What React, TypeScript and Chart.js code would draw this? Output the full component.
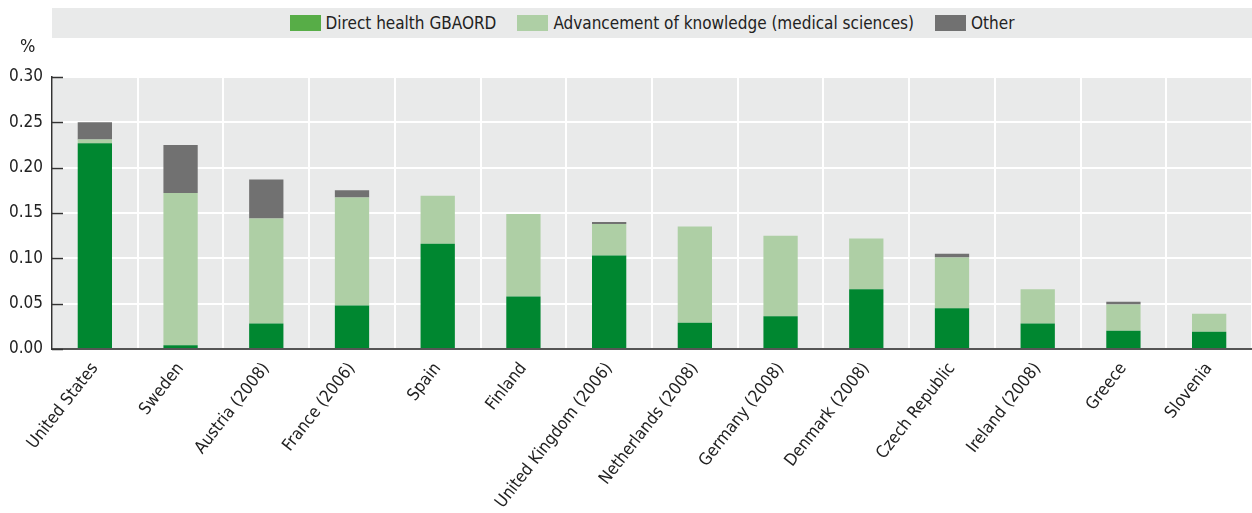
import React, { useEffect, useRef } from "react";
import { Chart, registerables } from "chart.js";

Chart.register(...registerables);

const categories = [
  "United States",
  "Sweden",
  "Austria (2008)",
  "France (2006)",
  "Spain",
  "Finland",
  "United Kingdom (2006)",
  "Netherlands (2008)",
  "Germany (2008)",
  "Denmark (2008)",
  "Czech Republic",
  "Ireland (2008)",
  "Greece",
  "Slovenia",
];
const directHealth = [0.227, 0.004, 0.028, 0.048, 0.116, 0.058, 0.103, 0.029, 0.036, 0.066, 0.045, 0.028, 0.02, 0.019];
const advancement = [0.004, 0.168, 0.116, 0.119, 0.053, 0.091, 0.035, 0.106, 0.089, 0.056, 0.056, 0.038, 0.029, 0.02];
const other = [0.019, 0.053, 0.043, 0.008, 0, 0, 0.002, 0, 0, 0, 0.004, 0, 0.003, 0];
const seriesNames = ["Direct health GBAORD", "Advancement of knowledge (medical sciences)", "Other"];
const yTicks = [0, 0.05, 0.1, 0.15, 0.2, 0.25, 0.3];

const FONT = "'Liberation Sans Narrow', 'DejaVu Sans Condensed', 'Arial Narrow', sans-serif";
const barColors = ["#008730", "#aecfa5", "#717171"];
const legendColors = ["#57ad47", "#aecfa5", "#717171"];

export default function App() {
  const ref = useRef<HTMLCanvasElement | null>(null);

  useEffect(() => {
    if (!ref.current) return;
    const bgPlugin = {
      id: "bg",
      beforeDraw(chart: any) {
        const { ctx, chartArea } = chart;
        ctx.save();
        ctx.fillStyle = "#e9eaea";
        ctx.fillRect(chartArea.left, chartArea.top, chartArea.right - chartArea.left, chartArea.bottom - chartArea.top);
        ctx.restore();
      },
      afterDraw(chart: any) {
        const { ctx, chartArea, scales } = chart;
        ctx.save();
        ctx.strokeStyle = "#333";
        ctx.lineWidth = 1.5;
        for (const v of yTicks) {
          const y = Math.round(scales.y.getPixelForValue(v)) + 0.5;
          ctx.beginPath();
          ctx.moveTo(chartArea.left, y);
          ctx.lineTo(chartArea.left + 11, y);
          ctx.stroke();
        }
        ctx.restore();
      },
    };

    const chart = new Chart(ref.current, {
      type: "bar",
      data: {
        labels: categories,
        datasets: [
          { label: seriesNames[0], data: directHealth, backgroundColor: barColors[0] },
          { label: seriesNames[1], data: advancement, backgroundColor: barColors[1] },
          { label: seriesNames[2], data: other, backgroundColor: barColors[2] },
        ].map((d) => ({ ...d, barPercentage: 0.4, categoryPercentage: 1.0, borderWidth: 0 })),
      },
      options: {
        responsive: false,
        animation: false,
        devicePixelRatio: 1,
        layout: { padding: { top: 77, left: 0, right: 0, bottom: 0 } },
        plugins: { legend: { display: false }, tooltip: { enabled: false } },
        scales: {
          x: {
            stacked: true,
            offset: true,
            grid: { offset: true, color: "#ffffff", lineWidth: 2, drawTicks: false },
            border: { display: true, color: "#555", width: 2 },
            ticks: {
              minRotation: 52,
              maxRotation: 52,
              autoSkip: false,
              padding: 10,
              color: "#222",
              font: { family: FONT, size: 17 },
            },
            afterFit(scale: any) {
              scale.height = 164;
            },
          },
          y: {
            stacked: true,
            min: 0,
            max: 0.3,
            afterBuildTicks(scale: any) {
              scale.ticks = yTicks.map((v) => ({ value: v }));
            },
            ticks: {
              padding: 9,
              color: "#222",
              font: { family: FONT, size: 17 },
              callback: (v: any) => Number(v).toFixed(2),
            },
            grid: { color: "#ffffff", lineWidth: 2, drawTicks: false },
            border: { display: true, color: "#333", width: 1.5 },
            afterFit(scale: any) {
              scale.width = 52;
            },
          },
        },
      },
      plugins: [bgPlugin],
    } as any);
    return () => chart.destroy();
  }, []);

  return (
    <div style={{ position: "fixed", left: 0, top: 0, width: 1252, height: 513, background: "#fff", fontFamily: FONT }}>
      <canvas ref={ref} width={1252} height={513} style={{ position: "absolute", left: 0, top: 0 }} />
      <div
        style={{
          position: "absolute",
          left: 52,
          top: 8,
          width: 1200,
          height: 30,
          background: "#e9eaea",
          display: "flex",
          alignItems: "center",
          justifyContent: "center",
          fontSize: 17,
          color: "#222",
        }}
      >
        {seriesNames.map((n, i) => (
          <div key={n} style={{ display: "flex", alignItems: "center", marginRight: i < 2 ? 21 : 0 }}>
            <div style={{ width: 31, height: 16, background: legendColors[i], marginRight: 5 }} />
            <span>{n}</span>
          </div>
        ))}
      </div>
      <div style={{ position: "absolute", left: 20, top: 35, fontSize: 18, color: "#222" }}>%</div>
    </div>
  );
}
